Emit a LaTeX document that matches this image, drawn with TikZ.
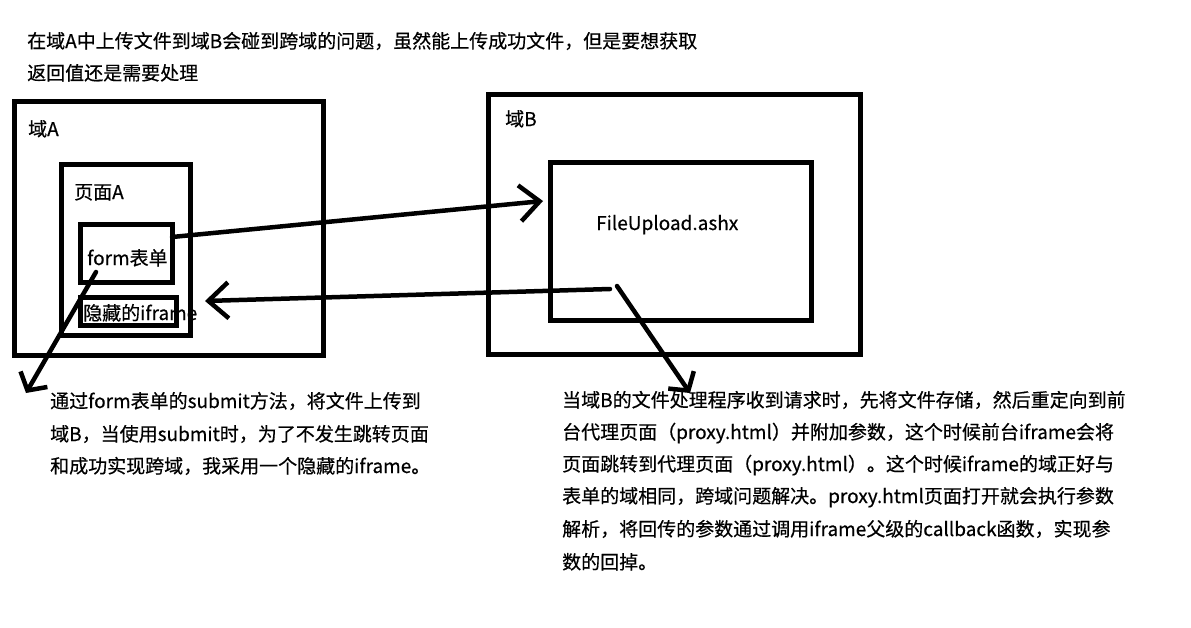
\documentclass[tikz,border=0pt]{standalone}
\usepackage{fontspec}
\setmainfont{Noto Sans CJK SC}[FakeBold=0.5]
\usetikzlibrary{arrows.meta}
\begin{document}
\begin{tikzpicture}[x=1pt,y=-1pt,
  box/.style={draw,line width=5pt,inner sep=0pt},
  txt/.style={anchor=base west,inner sep=0pt,font=\fontsize{19pt}{19pt}\selectfont},
  bigarrow/.style={line width=4.5pt,line cap=round,-{Straight Barb[length=20pt,width=36pt,line width=4.5pt]}},
  smallarrow/.style={line width=4.5pt,line cap=round,-{Straight Barb[length=13pt,width=31pt,line width=4.5pt]}}]
\useasboundingbox[fill=white] (0,0) rectangle (1191,627);

% title
\node[txt] (t1) at (27,48) {在域A中上传文件到域B会碰到跨域的问题，虽然能上传成功文件，但是要想获取};
\node[txt] (t2) at (27,80) {返回值还是需要处理};

% domain A
\node[box,minimum width=309pt,minimum height=254pt] (domA) at (168.5,228) {};
\node[box,minimum width=129pt,minimum height=171pt] (pageA) at (125.5,249.5) {};
\node[box,minimum width=92pt,minimum height=58pt] (form) at (126,253) {};
\node[box,minimum width=96pt,minimum height=28pt] (ifr) at (128,311) {};
\node[txt] (lA) at (28,136) {域A};
\node[txt] (lpA) at (74,199) {页面A};
\node[txt] (lform) at (87,265) {form表单};
\node[txt] (lifr) at (83,320) {隐藏的iframe};

% domain B
\node[box,minimum width=372pt,minimum height=260pt] (domB) at (674,224) {};
\node[box,minimum width=261pt,minimum height=158pt] (fu) at (680.5,241) {};
\node[txt] (lB) at (505,126) {域B};
\node[txt] (lfu) at (596,230) {FileUpload.ashx};

% left note
\node[txt] (n1) at (50,408) {通过form表单的submit方法，将文件上传到};
\node[txt] (n2) at (50,441) {域B，当使用submit时，为了不发生跳转页面};
\node[txt] (n3) at (50,473) {和成功实现跨域，我采用一个隐藏的iframe。};

% right note
\node[txt] (r1) at (562,407) {当域B的文件处理程序收到请求时，先将文件存储，然后重定向到前};
\node[txt] (r2) at (562,439) {台代理页面（proxy.html）并附加参数，这个时候前台iframe会将};
\node[txt] (r3) at (562,471) {页面跳转到代理页面（proxy.html）。这个时候iframe的域正好与};
\node[txt] (r4) at (562,503) {表单的域相同，跨域问题解决。proxy.html页面打开就会执行参数};
\node[txt] (r5) at (562,536) {解析，将回传的参数通过调用iframe父级的callback函数，实现参};
\node[txt] (r6) at (562,569) {数的回掉。};

% connectors
\coordinate (a1s) at (172,237);
\coordinate (a1e) at (543,201);
\coordinate (a2s) at (610,289);
\coordinate (a2e) at (205,301);
\coordinate (a3s) at (96,272);
\coordinate (a3e) at (26,393);
\coordinate (a4s) at (617,286);
\coordinate (a4e) at (690,393);
\draw[bigarrow] (a1s) -- (a1e);
\draw[bigarrow] (a2s) -- (a2e);
\draw[smallarrow] (a3s) -- (a3e);
\draw[smallarrow] (a4s) -- (a4e);
\end{tikzpicture}
\end{document}
